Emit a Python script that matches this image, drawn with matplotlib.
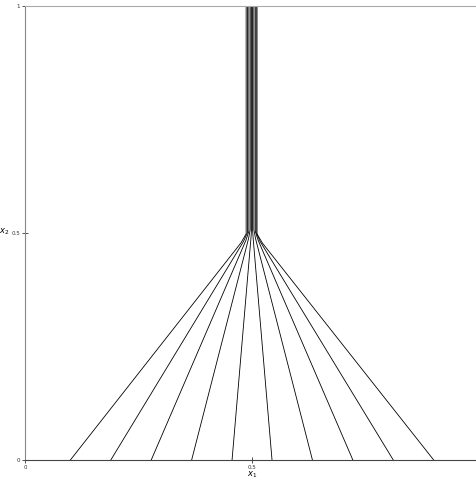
import matplotlib
matplotlib.use("Agg")
import matplotlib.pyplot as plt

# start points on x1 axis, end x on top, height where lines bend
x_start = [0.1, 0.189, 0.278, 0.367, 0.456, 0.544, 0.633, 0.722, 0.811, 0.9]
x_top = [0.487, 0.490, 0.493, 0.496, 0.499, 0.501, 0.504, 0.507, 0.509, 0.511]
y_knee = [0.478, 0.481, 0.484, 0.487, 0.490, 0.490, 0.487, 0.484, 0.481, 0.478]

fig = plt.figure(figsize=(4.76, 4.8), dpi=100)
ax = fig.add_axes([0.0525, 0.0417, 0.954, 0.9458])

for x0, xt, yk in zip(x_start, x_top, y_knee):
    # straight segment then a short bend into vertical
    xs = [x0, xt + (x0 - xt) * 0.03, xt, xt]
    ys = [0, yk, yk + 0.02, 1]
    ax.plot(xs, ys, color="black", lw=0.6)

ax.set_xlim(0, 1)
ax.set_ylim(0, 1)
ax.set_xticks([0, 0.5])
ax.set_xticklabels(["0", "0.5"])
ax.set_yticks([0, 0.5, 1])
ax.set_yticklabels(["0", "0.5", "1"])
ax.tick_params(direction="inout", length=5, width=0.6, labelsize=4, pad=1, colors="#333333")
ax.set_xlabel("$x_1$", fontsize=6, labelpad=0)
ax.xaxis.set_label_coords(0.5, -0.02)
ax.set_ylabel("$x_2$", fontsize=6, rotation=0, labelpad=0)
ax.yaxis.set_label_coords(-0.046, 0.492)

ax.spines["right"].set_visible(False)
ax.spines["top"].set_color("#aaaaaa")
ax.spines["left"].set_color("#888888")
ax.spines["bottom"].set_color("#444444")
for s in ax.spines.values():
    s.set_linewidth(0.8)

fig.savefig("out.png", dpi=100)
